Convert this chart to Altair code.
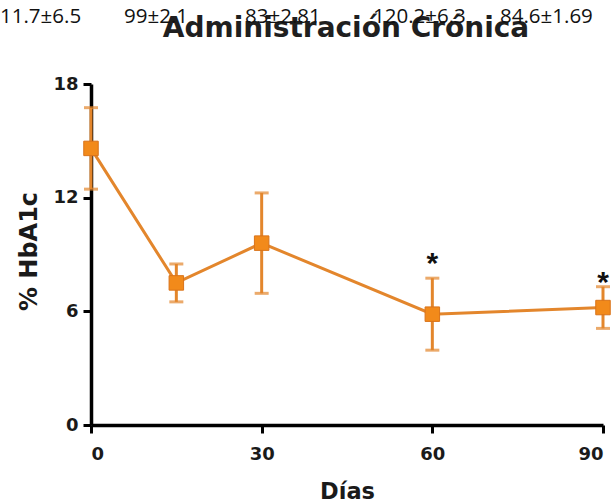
import altair as alt
import pandas as pd

# HbA1c over the course of chronic administration
days = [0, 15, 30, 60, 90]
hba1c_mean = [14.6, 7.5, 9.6, 5.85, 6.2]
hba1c_sd = [2.15, 1.0, 2.65, 1.9, 1.1]

# significance marks (day, height in % HbA1c)
star_days = [60, 90]
star_y = [8.8, 7.8]

# glucose values printed along the top
glucose_labels = ["11.7±6.5", "99±2.1", "83±2.81", "120.2±6.3", "84.6±1.69"]
glucose_label_x = [-91, 33, 154, 282, 409]

title_text = "Administración Crónica"

ORANGE = "#F28A1A"
LINE = "#E3862C"
EDGE = "#D9731A"
BOLD = "DejaVu Sans"

df = pd.DataFrame({"dia": days, "media": hba1c_mean, "sd": hba1c_sd})
df["lo"] = df["media"] - df["sd"]
df["hi"] = df["media"] + df["sd"]
stars = pd.DataFrame({"dia": star_days, "y": star_y})

x_enc = alt.X(
    "dia:Q",
    scale=alt.Scale(domain=[0, 90], nice=False),
    axis=alt.Axis(
        values=[0, 30, 60, 90],
        labelPadding=12,
        title="Días",
        titleFont=BOLD,
        titleFontSize=22.5,
        titleFontWeight="bold",
        titleColor="#1a1a1a",
        titleX=256,
        titleY=73,
        titleAlign="center",
        titleBaseline="alphabetic",
    ),
)
y_scale = alt.Scale(domain=[0, 18], nice=False)
y_axis = alt.Axis(
    values=[0, 6, 12, 18],
    labelPadding=5,
    title="% HbA1c",
    titleFont=BOLD,
    titleFontSize=24,
    titleFontWeight="bold",
    titleColor="#1a1a1a",
    titleAngle=270,
    titleX=-55,
    titleY=167,
    titleAlign="center",
    titleBaseline="alphabetic",
)

base = alt.Chart(df)

line = base.mark_line(color=LINE, strokeWidth=3).encode(
    x=x_enc, y=alt.Y("media:Q", scale=y_scale, axis=y_axis)
)

err = base.mark_rule(color=LINE, strokeWidth=3).encode(
    x="dia:Q", y="lo:Q", y2="hi:Q"
)
cap_hi = base.mark_tick(color=LINE, thickness=3, size=14, orient="horizontal").encode(
    x="dia:Q", y="hi:Q"
)
cap_lo = base.mark_tick(color=LINE, thickness=3, size=14, orient="horizontal").encode(
    x="dia:Q", y="lo:Q"
)

points = base.mark_point(
    shape="square", filled=True, size=210, color=ORANGE, stroke=EDGE, strokeWidth=1, opacity=1
).encode(x="dia:Q", y="media:Q")

star_marks = alt.Chart(stars).mark_text(
    text="*", fontSize=30, font="Liberation Sans", fontWeight="bold", color="#111",
    baseline="middle", dy=6
).encode(x="dia:Q", y="y:Q")

title_mark = alt.Chart(pd.DataFrame({"t": [title_text]})).mark_text(
    font=BOLD, fontSize=28, fontWeight="bold", color="#1f1f1f",
    align="center", baseline="alphabetic", clip=False,
).encode(text="t:N", x=alt.value(255), y=alt.value(-47))

label_layers = [
    alt.Chart(pd.DataFrame({"t": [txt]})).mark_text(
        font="Open Sans", fontSize=20.5, color="#111",
        align="left", baseline="alphabetic", clip=False,
    ).encode(text="t:N", x=alt.value(px), y=alt.value(-61))
    for txt, px in zip(glucose_labels, glucose_label_x)
]

chart = alt.layer(
    line, err, cap_hi, cap_lo, points, star_marks, title_mark, *label_layers
).properties(
    width=512,
    height=341,
    autosize=alt.AutoSizeParams(type="none"),
    padding={"left": 91, "top": 84, "right": 13, "bottom": 78},
    background="white",
).configure_view(
    stroke=None
).configure_axis(
    grid=False,
    domainColor="black",
    domainWidth=3.5,
    tickColor="black",
    tickWidth=3,
    tickSize=8,
    labelFont=BOLD,
    labelFontSize=18,
    labelFontWeight="bold",
    labelColor="#1a1a1a",
)

chart.save("out.html", embed_options={"renderer": "svg", "actions": False})
